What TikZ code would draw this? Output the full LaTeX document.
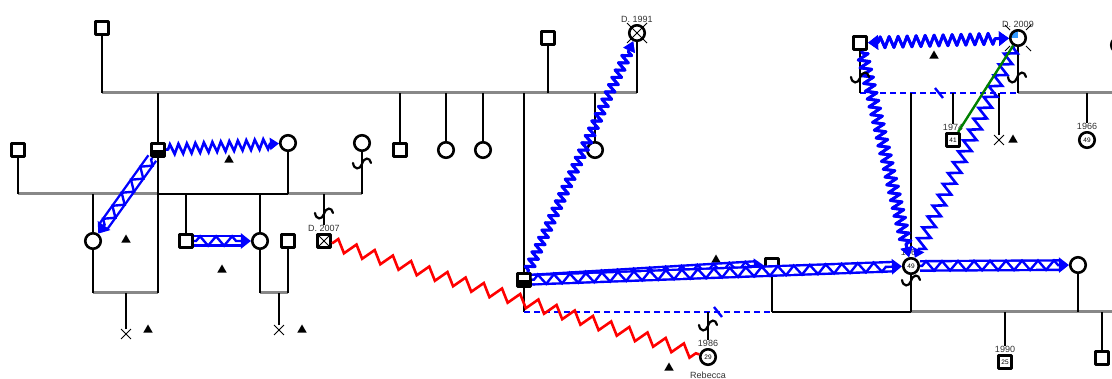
\documentclass[tikz,border=0pt]{standalone}
\usepackage{fontspec}
\setmainfont{Liberation Sans}
\usetikzlibrary{decorations.pathmorphing,arrows.meta,shapes.geometric,shapes.misc,backgrounds}

\definecolor{lineg}{HTML}{888888}
\definecolor{qblue}{HTML}{3399FF}
\definecolor{lgreen}{HTML}{008000}

\tikzset{
  person/.style={draw, line width=2.6pt, fill=white, inner sep=0pt, line join=round,
    font=\fontsize{6.5}{7}\selectfont},
  male/.style={person, rectangle, minimum size=13.5pt},
  female/.style={person, circle, minimum size=15.5pt},
  halfmale/.style={male, path picture={\fill[black] (path picture bounding box.west)
    rectangle (path picture bounding box.south east);}},
  deadmale/.style={male, path picture={\draw[black, line width=0.8pt]
    (path picture bounding box.north west) -- (path picture bounding box.south east)
    (path picture bounding box.south west) -- (path picture bounding box.north east);}},
  quarter/.style={female, path picture={\fill[qblue] (path picture bounding box.center)
    rectangle (path picture bounding box.north west);}},
  lab/.style={font=\fontsize{9}{10}\selectfont, text=black!80, fill=white, inner sep=0.8pt},
  tri/.style={regular polygon, regular polygon sides=3, fill, inner sep=0pt, minimum size=11pt},
  xmark/.style={cross out, draw, line width=0.9pt, minimum size=9pt, inner sep=0pt},
  pline/.style={line width=2.6pt},
  gline/.style={line width=3pt, lineg},
  bdash/.style={line width=2.6pt, blue, dash pattern=on 6pt off 4pt},
  slash/.style={line width=2.4pt, blue},
  xline/.style={line width=0.8pt},
  % relation lines
  zig/.style={blue, line width=2.6pt, -{Triangle[length=9pt,width=12pt]}, decorate,
    decoration={zigzag, segment length=8.5pt, amplitude=5pt, pre length=2pt, post length=9pt}},
  fzig/.style={blue, line width=3pt, line join=round, -{Triangle[length=10pt,width=12pt]},
    decorate, decoration={zigzag, segment length=8pt, amplitude=4.5pt, pre length=2pt, post length=10pt},
    postaction={draw, blue, line width=2.6pt}},
  band/.style={blue, line width=2.4pt, double=white, double distance=7pt, shorten >=9pt,
    postaction={draw, blue, line width=2.4pt, double=none, shorten >=0pt,
      -{Triangle[length=10pt,width=15pt]}, decorate,
      decoration={zigzag, segment length=16pt, amplitude=4.7pt, pre length=2pt, post length=10pt}}},
  redzig/.style={red, line width=2.6pt, decorate,
    decoration={zigzag, segment length=19pt, amplitude=6pt}},
  hookmark/.pic={\draw[line width=2.2pt, line cap=round]
    (-9,0) .. controls (-8,7) and (-2,7) .. (0,1) .. controls (2,-6) and (8,-6) .. (9,0);}
}

\begin{document}
\begin{tikzpicture}[x=1pt, y=-1pt]
  \useasboundingbox (0,0) rectangle (1112,379);

  % first generation
  \node[male] (sqA) at (102,28) {};
  \node[male] (sqB) at (548,38) {};
  \node[female, label={[lab]above:D. 1991}] (d91) at (637,33) {};
  \node[male] (m859) at (860,43) {};
  \node[quarter, label={[lab]above:D. 2009}] (d09) at (1018,38) {};
  \node[female] (f1117) at (1119,45) {};

  % second generation
  \node[male] (sq18) at (18,150) {};
  \node[halfmale] (h158) at (158,150) {};
  \node[female] (f288) at (288,143) {};
  \node[female] (f362) at (362,143) {};
  \node[male] (m400) at (400,150) {};
  \node[female] (f446) at (446,150) {};
  \node[female] (f483) at (483,150) {};
  \node[female] (f595) at (595,150) {};
  \node[male, label={[lab]above:1974}] (m41) at (953,140) {41};
  \node[xmark] (x1000) at (999,140) {};
  \node[female, label={[lab]above:1966}] (c49) at (1087,140) {49};

  % third generation
  \node[female] (f93) at (93,241) {};
  \node[male] (m186) at (186,241) {};
  \node[female] (f260) at (260,241) {};
  \node[male] (m288) at (288,241) {};
  \node[deadmale, label={[lab]above:D. 2007}] (d07) at (324,241) {};
  \node[halfmale] (h524) at (524,280) {};
  \node[male] (m772) at (772,265) {};
  \node[female, label={[lab]above:1966}] (c910) at (911,266) {49};
  \node[female] (f1078) at (1078,265) {};

  % fourth generation
  \node[xmark] (x126) at (126,334) {};
  \node[xmark] (x279) at (279,330) {};
  \node[female, label={[lab]above:1986}, label={[lab, label distance=5pt]below:Rebecca}] (c29) at (708,357) {29};
  \node[male, label={[lab]above:1990}] (m25) at (1005,362) {25};
  \node[male] (m1102) at (1102,358) {};

  % triangles
  \node[tri] (t1) at (229,160) {};
  \node[tri] (t2) at (126,240) {};
  \node[tri] (t3) at (222,270) {};
  \node[tri] (t4) at (148,330) {};
  \node[tri] (t5) at (302,330) {};
  \node[tri] (t6) at (669,368) {};
  \node[tri] (t7) at (716,260) {};
  \node[tri] (t8) at (934,56) {};
  \node[tri] (t9) at (1013,140) {};

  % deceased marks
  \draw[xline] (d91.center) +(-10,-10) -- +(10,10) +(-10,10) -- +(10,-10);
  \draw[xline] (d09.center) +(-8,-8) -- +(-13,-13) +(8,-8) -- +(13,-13)
    +(-8,8) -- +(-13,13) +(8,8) -- +(13,13);

  \begin{scope}[on background layer]
  % top family
  \coordinate (topL) at (102,93);
  \coordinate (topR) at (637,93);
  \draw[gline] (topL) -- (topR);
  \draw[pline] (sqA) -- (topL);
  \draw[pline] (sqB) -- (sqB |- topL);
  \draw[pline] (d91) -- (topR);
  \draw[pline] (h158) -- (h158 |- topL);
  \draw[pline] (m400) -- (m400 |- topL);
  \draw[pline] (f446) -- (f446 |- topL);
  \draw[pline] (f483) -- (f483 |- topL);
  \draw[pline] (h524) -- (h524 |- topL);
  \draw[pline] (f595) -- (f595 |- topL);

  % left family
  \coordinate (lm1) at (18,194);
  \coordinate (lm2) at (158,194);
  \coordinate (lm3) at (288,194);
  \coordinate (lm4) at (362,194);
  \coordinate (lb1) at (93,293);
  \coordinate (lb2) at (158,293);
  \coordinate (lc1) at (260,293);
  \coordinate (lc2) at (288,293);
  \draw[gline] (lm1) -- (lm2);
  \draw[pline] (lm2) -- (lm3);
  \draw[gline] (lm3) -- (lm4);
  \draw[gline] (lb1) -- (lb2);
  \draw[gline] (lc1) -- (lc2);
  \draw[pline] (sq18) -- (lm1);
  \draw[pline] (f288) -- (lm3);
  \draw[pline] (f362) -- (lm4);
  \draw[pline] (h158) -- (lb2);
  \draw[pline] (f93) -- (f93 |- lm1);
  \draw[pline] (f93) -- (lb1);
  \draw[pline] (x126) -- (x126 |- lb1);
  \draw[pline] (m186) -- (m186 |- lm2);
  \draw[pline] (f260) -- (f260 |- lm2);
  \draw[pline] (d07) -- (d07 |- lm3);
  \draw[pline] (f260) -- (lc1);
  \draw[pline] (m288) -- (lc2);
  \draw[pline] (x279) -- (x279 |- lc1);

  % middle family
  \coordinate (mm1) at (524,312);
  \coordinate (mm2) at (772,312);
  \coordinate (mm3) at (911,312);
  \coordinate (mm4) at (1116,312);
  \coordinate (sl1) at (718,312);
  \draw[pline] (h524) -- (mm1);
  \draw[bdash] (mm1) -- (mm2);
  \draw[slash] (sl1) +(-4,-5) -- +(4,5);
  \draw[pline] (m772) -- (mm2);
  \draw[pline] (mm2) -- (mm3);
  \draw[gline] (mm3) -- (mm4);
  \draw[pline] (c910) -- (mm3);
  \draw[pline] (f1078) -- (f1078 |- mm3);
  \draw[pline] (c29) -- (c29 |- mm1);
  \draw[pline] (m25) -- (m25 |- mm3);
  \draw[pline] (m1102) -- (m1102 |- mm3);

  % right family
  \coordinate (rm1) at (860,93);
  \coordinate (rm2) at (1018,93);
  \coordinate (rm3) at (1116,93);
  \coordinate (sl2) at (939,93);
  \draw[bdash] (rm1) -- (rm2);
  \draw[slash] (sl2) +(-4,-5) -- +(4,5);
  \draw[gline] (rm2) -- (rm3);
  \draw[pline] (m859) -- (rm1);
  \draw[pline] (d09) -- (rm2);
  \draw[pline] (c910) -- (c910 |- rm1);
  \draw[pline] (m41) -- (m41 |- rm1);
  \draw[pline] (x1000) -- (x1000 |- rm1);
  \draw[pline] (c49) -- (c49 |- rm2);
  \end{scope}

  % relations
  \draw[redzig] (d07) -- (c29);
  \draw[zig] (h158) -- (f288);
  \draw[band] (h158) -- (f93);
  \draw[band] (m186) -- (f260);
  \draw[fzig] (h524) -- (d91);
  \draw[band] (h524) -- (m772);
  \draw[band] (h524) -- (c910);
  \draw[band] (c910) -- (f1078);
  \draw[fzig, {Triangle[length=10pt,width=14pt]}-{Triangle[length=10pt,width=14pt]},
    decoration={segment length=9pt, amplitude=5.5pt, pre length=10pt, post length=10pt}] (m859) -- (d09);
  \draw[fzig, decoration={amplitude=5.5pt}] (m859) -- (c910);
  \draw[zig, decoration={segment length=12pt, amplitude=6pt}] (d09) -- (c910);
  \draw[lgreen, line width=2.4pt] (d09) -- (m41);

  % hooks
  \pic at (362,163) {hookmark};
  \pic at (324,213) {hookmark};
  \pic at (860,77) {hookmark};
  \pic at (1017,77) {hookmark};
  \pic at (708,325) {hookmark};
  \pic at (911,280) {hookmark};
\end{tikzpicture}
\end{document}
